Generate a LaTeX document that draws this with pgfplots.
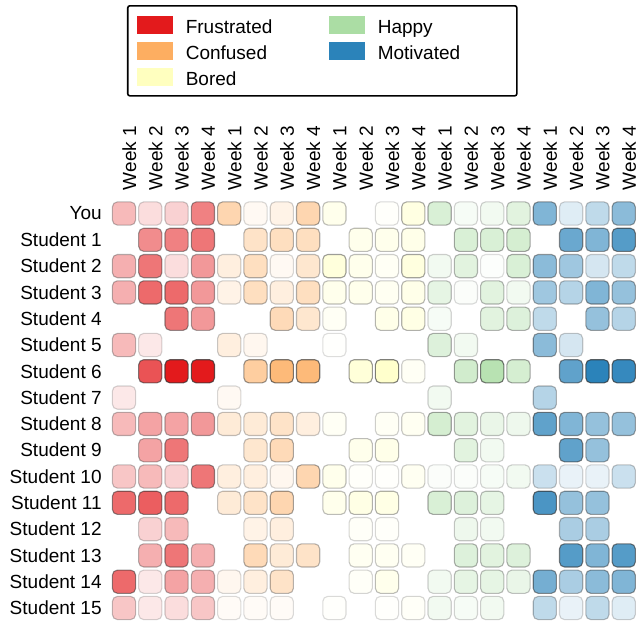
\documentclass[border=0pt]{standalone}
\usepackage{pgfplots}
\usepackage{pgfplotstable}
\usepackage{fontspec}
\setmainfont{Liberation Sans}
\pgfplotsset{compat=1.18}

\definecolor{frus}{HTML}{E31A1C}
\definecolor{conf}{HTML}{FDAE61}
\definecolor{bore}{HTML}{FFFFBF}
\definecolor{happ}{HTML}{ABDDA4}
\definecolor{moti}{HTML}{2B83BA}

% rows: You, Student 1 ... Student 15 ; columns: 5 emotions x 4 weeks
\pgfplotstableread{
c1 c2 c3 c4 c5 c6 c7 c8 c9 c10 c11 c12 c13 c14 c15 c16 c17 c18 c19 c20
0.30 0.15 0.20 0.55 0.50 0.08 0.15 0.50 0.30 0.00 0.06 0.45 0.45 0.10 0.15 0.35 0.60 0.15 0.30 0.55
0.00 0.50 0.55 0.60 0.00 0.35 0.40 0.40 0.00 0.30 0.30 0.35 0.00 0.45 0.45 0.50 0.00 0.70 0.60 0.80
0.35 0.60 0.15 0.45 0.20 0.40 0.08 0.30 0.55 0.30 0.15 0.50 0.15 0.35 0.03 0.45 0.55 0.45 0.20 0.30
0.35 0.65 0.65 0.45 0.15 0.40 0.20 0.40 0.30 0.30 0.20 0.35 0.30 0.05 0.35 0.15 0.45 0.35 0.60 0.50
0.00 0.00 0.60 0.45 0.00 0.00 0.45 0.30 0.15 0.00 0.35 0.40 0.10 0.00 0.35 0.40 0.30 0.00 0.50 0.35
0.30 0.10 0.00 0.00 0.20 0.10 0.00 0.00 0.03 0.00 0.00 0.00 0.40 0.15 0.00 0.00 0.55 0.20 0.00 0.00
0.00 0.75 1.00 1.00 0.00 0.60 0.85 0.85 0.00 0.60 0.80 0.15 0.00 0.55 0.85 0.50 0.00 0.75 1.00 0.95
0.10 0.00 0.00 0.00 0.08 0.00 0.00 0.00 0.00 0.00 0.00 0.00 0.15 0.00 0.00 0.00 0.35 0.00 0.00 0.00
0.30 0.40 0.40 0.45 0.25 0.25 0.35 0.20 0.15 0.00 0.15 0.20 0.50 0.35 0.25 0.20 0.75 0.60 0.50 0.50
0.00 0.40 0.60 0.00 0.00 0.30 0.45 0.00 0.00 0.30 0.35 0.00 0.00 0.35 0.15 0.00 0.00 0.75 0.50 0.00
0.25 0.30 0.20 0.60 0.20 0.20 0.10 0.50 0.30 0.08 0.05 0.20 0.05 0.05 0.10 0.15 0.25 0.10 0.10 0.25
0.65 0.70 0.65 0.00 0.25 0.35 0.50 0.00 0.30 0.40 0.40 0.00 0.45 0.40 0.30 0.00 0.85 0.50 0.50 0.00
0.00 0.20 0.30 0.00 0.00 0.15 0.20 0.00 0.00 0.10 0.08 0.00 0.00 0.20 0.15 0.00 0.00 0.40 0.40 0.00
0.00 0.35 0.60 0.35 0.00 0.45 0.25 0.35 0.00 0.20 0.20 0.15 0.00 0.40 0.35 0.40 0.00 0.80 0.60 0.80
0.65 0.10 0.40 0.35 0.10 0.20 0.35 0.00 0.00 0.10 0.30 0.00 0.15 0.30 0.30 0.25 0.65 0.40 0.55 0.60
0.25 0.10 0.15 0.25 0.05 0.05 0.05 0.00 0.05 0.00 0.05 0.10 0.15 0.10 0.15 0.00 0.30 0.10 0.30 0.15
}\cells

\pgfplotsset{
  cell/.style={only marks, mark=none, forget plot, nodes near coords={},
    nodes near coords style={anchor=center, inner sep=0pt, minimum size=23.2bp,
      rounded corners=5bp, fill=#1, draw=black!80, line width=1.1bp,
      fill opacity=\op, draw opacity=\dop}},
}

\begin{document}
\begin{tikzpicture}
\begin{axis}[name=ax, scale only axis, width=526bp, height=420.8bp,
  xmin=0.5, xmax=20.5, ymin=0.5, ymax=16.5, y dir=reverse,
  axis line style={draw=none}, major tick length=0pt,
  xtick={1.2,2.2,3.2,4.2,5.2,6.2,7.2,8.2,9.2,10.2,11.2,12.2,13.2,14.2,15.2,16.2,17.2,18.2,19.2,20.2},
  xticklabels={Week 1,Week 2,Week 3,Week 4,Week 1,Week 2,Week 3,Week 4,Week 1,Week 2,Week 3,Week 4,Week 1,Week 2,Week 3,Week 4,Week 1,Week 2,Week 3,Week 4},
  xticklabel pos=upper,
  xticklabel style={rotate=90, anchor=west, inner sep=0pt},
  xticklabel shift=10bp,
  ytick={1,...,16},
  yticklabels={You,Student 1,Student 2,Student 3,Student 4,Student 5,Student 6,Student 7,Student 8,Student 9,Student 10,Student 11,Student 12,Student 13,Student 14,Student 15},
  yticklabel style={anchor=east, inner sep=0pt},
  yticklabel shift=9bp,
  tick label style={font=\fontsize{19bp}{22bp}\selectfont},
  legend columns=2, legend cell align=left,
  legend style={at={(0.0307,1.4642)}, anchor=north west, draw=black, line width=1.6bp,
    rounded corners=2bp, inner xsep=9bp, inner ysep=10bp, column sep=13bp, row sep=8bp,
    font=\fontsize{19bp}{22bp}\selectfont,
    nodes={inner sep=0pt, text width=130bp, text height=18bp, text depth=0bp}},
  legend image code/.code={\path[sharp corners, draw=none, #1] (0bp,-9bp) rectangle (36bp,9bp);},
]
\addlegendimage{fill=frus}\addlegendentry{Frustrated}
\addlegendimage{fill=happ}\addlegendentry{Happy}
\addlegendimage{fill=conf}\addlegendentry{Confused}
\addlegendimage{fill=moti}\addlegendentry{Motivated}
\addlegendimage{fill=bore}\addlegendentry{Bored}

\pgfplotsinvokeforeach{1,2,3,4}{
  \addplot[cell=frus, visualization depends on={\thisrow{c#1} \as \op},
    visualization depends on={(\thisrow{c#1}>0)*(0.15+0.6*\thisrow{c#1}) \as \dop}]
    table[x expr=#1, y expr=\coordindex+1] {\cells};
}
\pgfplotsinvokeforeach{5,6,7,8}{
  \addplot[cell=conf, visualization depends on={\thisrow{c#1} \as \op},
    visualization depends on={(\thisrow{c#1}>0)*(0.15+0.6*\thisrow{c#1}) \as \dop}]
    table[x expr=#1, y expr=\coordindex+1] {\cells};
}
\pgfplotsinvokeforeach{9,10,11,12}{
  \addplot[cell=bore, visualization depends on={\thisrow{c#1} \as \op},
    visualization depends on={(\thisrow{c#1}>0)*(0.15+0.6*\thisrow{c#1}) \as \dop}]
    table[x expr=#1, y expr=\coordindex+1] {\cells};
}
\pgfplotsinvokeforeach{13,14,15,16}{
  \addplot[cell=happ, visualization depends on={\thisrow{c#1} \as \op},
    visualization depends on={(\thisrow{c#1}>0)*(0.15+0.6*\thisrow{c#1}) \as \dop}]
    table[x expr=#1, y expr=\coordindex+1] {\cells};
}
\pgfplotsinvokeforeach{17,18,19,20}{
  \addplot[cell=moti, visualization depends on={\thisrow{c#1} \as \op},
    visualization depends on={(\thisrow{c#1}>0)*(0.15+0.6*\thisrow{c#1}) \as \dop}]
    table[x expr=#1, y expr=\coordindex+1] {\cells};
}
\end{axis}
\pgfresetboundingbox
\path[use as bounding box] ([xshift=-110.85bp, yshift=-3.85bp]ax.south west) rectangle ([xshift=2.15bp, yshift=200.35bp]ax.north east);
\end{tikzpicture}
\end{document}
